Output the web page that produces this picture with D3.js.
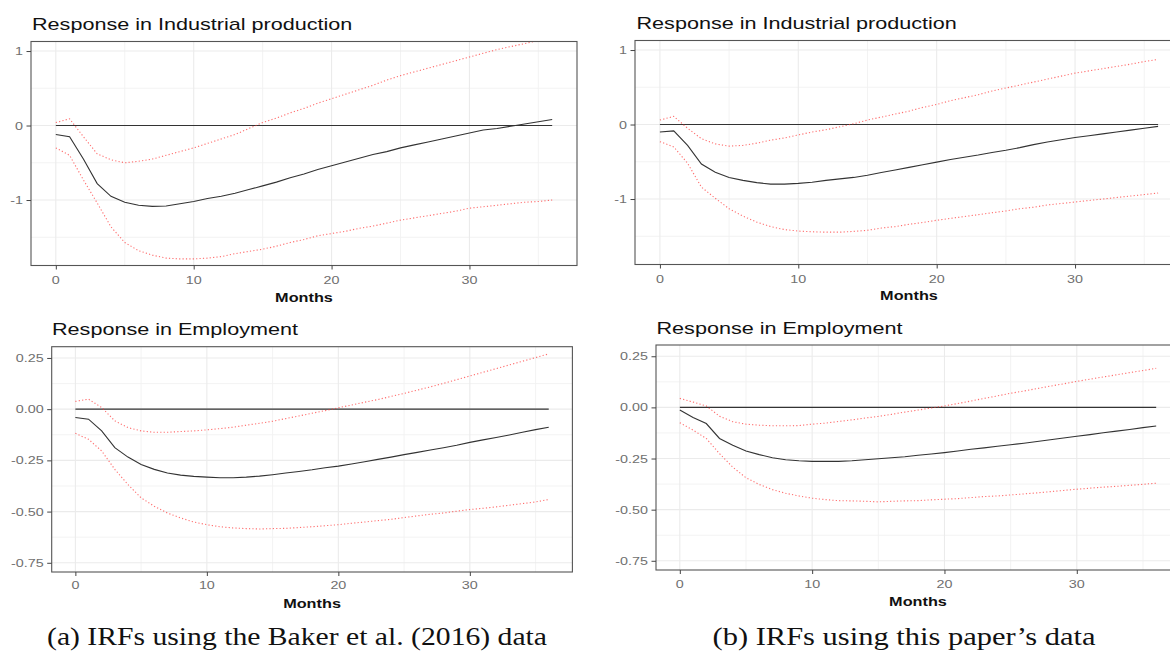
<!DOCTYPE html>
<html>
<head>
<meta charset="utf-8">
<script src="https://cdn.jsdelivr.net/npm/d3@7/dist/d3.min.js"></script>
<style>
  html, body { margin: 0; padding: 0; background: #fff; }
  svg { display: block; }
</style>
</head>
<body>
<svg id="chart" width="1170" height="655"></svg>
<script>
// Horizon in months after the shock
const months = [0,1,2,3,4,5,6,7,8,9,10,11,12,13,14,15,16,17,18,19,20,21,22,23,24,25,26,27,28,29,30,31,32,33,34,35,36];
const monthTicks = [0, 10, 20, 30];
const monthMinor = [5, 15, 25, 35];

// (a) Baker et al. (2016) data — industrial production
const ipBakerIrf = [-0.12,-0.15,-0.45,-0.78,-0.95,-1.03,-1.07,-1.085,-1.08,-1.05,-1.02,-0.98,-0.95,-0.91,-0.86,-0.81,-0.76,-0.70,-0.65,-0.59,-0.54,-0.49,-0.44,-0.39,-0.35,-0.30,-0.26,-0.22,-0.18,-0.14,-0.10,-0.06,-0.04,-0.01,0.02,0.05,0.08];
const ipBakerUpper = [0.04,0.09,-0.15,-0.38,-0.46,-0.50,-0.48,-0.45,-0.40,-0.35,-0.30,-0.24,-0.18,-0.12,-0.04,0.04,0.10,0.17,0.23,0.30,0.36,0.42,0.48,0.54,0.61,0.67,0.72,0.77,0.82,0.87,0.92,0.97,1.02,1.06,1.10,1.14,1.18];
const ipBakerLower = [-0.30,-0.40,-0.73,-1.04,-1.36,-1.57,-1.68,-1.74,-1.78,-1.79,-1.79,-1.78,-1.76,-1.72,-1.69,-1.66,-1.62,-1.57,-1.53,-1.48,-1.45,-1.42,-1.38,-1.35,-1.31,-1.27,-1.24,-1.21,-1.18,-1.15,-1.11,-1.09,-1.07,-1.05,-1.03,-1.02,-1.00];

// (b) this paper's data — industrial production
const ipOwnIrf = [-0.10,-0.085,-0.28,-0.53,-0.64,-0.71,-0.75,-0.78,-0.80,-0.80,-0.79,-0.775,-0.75,-0.73,-0.71,-0.68,-0.645,-0.61,-0.575,-0.54,-0.505,-0.47,-0.44,-0.41,-0.375,-0.345,-0.31,-0.27,-0.235,-0.205,-0.175,-0.15,-0.125,-0.10,-0.075,-0.05,-0.025];
const ipOwnUpper = [0.06,0.11,-0.05,-0.19,-0.26,-0.29,-0.28,-0.25,-0.21,-0.18,-0.14,-0.10,-0.07,-0.03,0.01,0.06,0.10,0.14,0.18,0.23,0.27,0.32,0.36,0.40,0.45,0.49,0.53,0.57,0.61,0.65,0.69,0.72,0.75,0.78,0.81,0.845,0.875];
const ipOwnLower = [-0.23,-0.30,-0.52,-0.84,-0.99,-1.13,-1.23,-1.31,-1.37,-1.41,-1.43,-1.44,-1.445,-1.445,-1.435,-1.42,-1.39,-1.37,-1.34,-1.315,-1.285,-1.26,-1.235,-1.21,-1.185,-1.16,-1.13,-1.11,-1.08,-1.06,-1.04,-1.02,-1.00,-0.98,-0.96,-0.94,-0.92];

// (a) Baker et al. (2016) data — employment
const empBakerIrf = [-0.041,-0.049,-0.106,-0.188,-0.234,-0.27,-0.294,-0.312,-0.322,-0.328,-0.332,-0.335,-0.335,-0.332,-0.327,-0.32,-0.312,-0.304,-0.296,-0.286,-0.278,-0.268,-0.257,-0.245,-0.234,-0.222,-0.211,-0.199,-0.188,-0.176,-0.162,-0.150,-0.138,-0.126,-0.113,-0.100,-0.088];
const empBakerUpper = [0.038,0.049,0.008,-0.057,-0.09,-0.106,-0.113,-0.113,-0.109,-0.106,-0.101,-0.095,-0.088,-0.078,-0.069,-0.059,-0.046,-0.033,-0.02,-0.007,0.007,0.02,0.034,0.047,0.062,0.077,0.093,0.109,0.126,0.144,0.162,0.18,0.198,0.216,0.234,0.252,0.27];
const empBakerLower = [-0.118,-0.147,-0.204,-0.294,-0.368,-0.433,-0.474,-0.507,-0.531,-0.551,-0.564,-0.574,-0.58,-0.583,-0.585,-0.583,-0.582,-0.578,-0.574,-0.569,-0.564,-0.557,-0.551,-0.544,-0.538,-0.529,-0.521,-0.513,-0.507,-0.498,-0.49,-0.484,-0.477,-0.469,-0.461,-0.453,-0.441];

// (b) this paper's data — employment
const empOwnIrf = [-0.013,-0.049,-0.079,-0.152,-0.185,-0.213,-0.231,-0.246,-0.256,-0.261,-0.264,-0.264,-0.264,-0.261,-0.256,-0.251,-0.246,-0.241,-0.234,-0.228,-0.221,-0.213,-0.205,-0.198,-0.19,-0.183,-0.175,-0.167,-0.158,-0.15,-0.141,-0.133,-0.124,-0.116,-0.108,-0.099,-0.091];
const empOwnUpper = [0.044,0.026,0.007,-0.043,-0.07,-0.082,-0.087,-0.09,-0.09,-0.089,-0.082,-0.077,-0.069,-0.061,-0.052,-0.044,-0.034,-0.023,-0.013,-0.003,0.007,0.019,0.031,0.044,0.056,0.069,0.08,0.092,0.104,0.115,0.127,0.138,0.149,0.159,0.17,0.18,0.191];
const empOwnLower = [-0.075,-0.111,-0.152,-0.226,-0.292,-0.344,-0.377,-0.402,-0.42,-0.433,-0.444,-0.451,-0.456,-0.457,-0.459,-0.462,-0.459,-0.457,-0.456,-0.452,-0.449,-0.446,-0.441,-0.436,-0.433,-0.428,-0.423,-0.418,-0.412,-0.406,-0.40,-0.395,-0.39,-0.386,-0.381,-0.376,-0.371];

// Axis ticks
const ipTicks = [-1, 0, 1];
const ipMinor = [-1.5, -0.5, 0.5];
const empTicks = [-0.75, -0.5, -0.25, 0, 0.25];
const empMinor = [-0.625, -0.375, -0.125, 0.125];

const panelTitles = ["Response in Industrial production", "Response in Employment"];
const xAxisTitle = "Months";
const captions = ["(a) IRFs using the Baker et al. (2016) data", "(b) IRFs using this paper\u2019s data"];

// The plot images are set wider than their native aspect, so all plot text is stretched horizontally
const SX = 1.27;
const SANS = "'Liberation Sans', Arial, Helvetica, sans-serif";
const SERIF = "'Liberation Serif', 'Times New Roman', serif";

const asciiMinus = s => s.replace("\u2212", "-");
const fmtInt = v => asciiMinus(d3.format("d")(v));
const fmt2 = v => asciiMinus(d3.format(".2f")(v));

const panels = [
  { title: panelTitles[0], box: {l: 31, r: 577, t: 41.5, b: 265.5}, yDomain: [-1.879, 1.128],
    ticks: ipTicks, minor: ipMinor, fmt: fmtInt, irf: ipBakerIrf, up: ipBakerUpper, lo: ipBakerLower,
    titlePos: [32, 30], xlabY: 301.5, tickLabY: 283.5 },
  { title: panelTitles[0], box: {l: 635, r: 1183, t: 40.5, b: 264.5}, yDomain: [-1.879, 1.128],
    ticks: ipTicks, minor: ipMinor, fmt: fmtInt, irf: ipOwnIrf, up: ipOwnUpper, lo: ipOwnLower,
    titlePos: [636.5, 28.5], xlabY: 300, tickLabY: 282.5 },
  { title: panelTitles[1], box: {l: 51.7, r: 572.4, t: 346.7, b: 572}, yDomain: [-0.795, 0.305],
    ticks: empTicks, minor: empMinor, fmt: fmt2, irf: empBakerIrf, up: empBakerUpper, lo: empBakerLower,
    titlePos: [52, 335], xlabY: 607.5, tickLabY: 589 },
  { title: panelTitles[1], box: {l: 656, r: 1180, t: 345, b: 570}, yDomain: [-0.795, 0.305],
    ticks: empTicks, minor: empMinor, fmt: fmt2, irf: empOwnIrf, up: empOwnUpper, lo: empOwnLower,
    titlePos: [656.5, 333.5], xlabY: 606, tickLabY: 587.5 }
];

const svg = d3.select("#chart");
svg.append("rect").attr("width", 1170).attr("height", 655).attr("fill", "#fff");
const defs = svg.append("defs");

// stretched text anchored at (x, y)
function stretchedText(parent, x, y, str, opts) {
  return parent.append("text")
    .attr("transform", `translate(${x},${y}) scale(${SX},1)`)
    .attr("text-anchor", opts.anchor || "start")
    .attr("font-family", SANS)
    .attr("font-size", opts.size)
    .attr("font-weight", opts.weight || "normal")
    .attr("fill", opts.fill || "#111")
    .attr("dy", opts.dy || 0)
    .text(str);
}

panels.forEach((p, i) => {
  const {l, r, t, b} = p.box;
  const x = d3.scaleLinear().domain([-1.8, 37.8]).range([l, r]);
  const y = d3.scaleLinear().domain(p.yDomain).range([b, t]);
  const g = svg.append("g");

  const clipId = "clip" + i;
  defs.append("clipPath").attr("id", clipId)
    .append("rect").attr("x", l).attr("y", t).attr("width", r - l).attr("height", b - t);

  // minor grid
  g.append("g").selectAll("line").data(p.minor).join("line")
    .attr("x1", l).attr("x2", r).attr("y1", d => y(d)).attr("y2", d => y(d))
    .attr("stroke", "#f2f2f2").attr("stroke-width", 0.9);
  g.append("g").selectAll("line").data(monthMinor).join("line")
    .attr("y1", t).attr("y2", b).attr("x1", d => x(d)).attr("x2", d => x(d))
    .attr("stroke", "#f2f2f2").attr("stroke-width", 0.9);
  // major grid
  g.append("g").selectAll("line").data(p.ticks).join("line")
    .attr("x1", l).attr("x2", r).attr("y1", d => y(d)).attr("y2", d => y(d))
    .attr("stroke", "#ebebeb").attr("stroke-width", 1.1);
  g.append("g").selectAll("line").data(monthTicks).join("line")
    .attr("y1", t).attr("y2", b).attr("x1", d => x(d)).attr("x2", d => x(d))
    .attr("stroke", "#ebebeb").attr("stroke-width", 1.1);

  const plot = g.append("g").attr("clip-path", `url(#${clipId})`);
  const line = d3.line().x((d, k) => x(months[k])).y(d => y(d));

  // zero reference line over the horizon
  plot.append("line")
    .attr("x1", x(months[0])).attr("x2", x(months[months.length - 1]))
    .attr("y1", y(0)).attr("y2", y(0))
    .attr("stroke", "#333").attr("stroke-width", 1.1);

  // confidence bands
  [p.up, p.lo].forEach(band => {
    plot.append("path").datum(band).attr("d", line)
      .attr("fill", "none").attr("stroke", "#ff3030").attr("stroke-opacity", 0.7)
      .attr("stroke-width", 1.1).attr("stroke-dasharray", "1.2,2.2");
  });

  // impulse response
  plot.append("path").datum(p.irf).attr("d", line)
    .attr("fill", "none").attr("stroke", "#333").attr("stroke-width", 1.1);

  // panel border
  g.append("rect").attr("x", l).attr("y", t).attr("width", r - l).attr("height", b - t)
    .attr("fill", "none").attr("stroke", "#555").attr("stroke-width", 1.1);

  // x axis: tick marks from the axis generator, labels stretched
  const gx = g.append("g").attr("transform", `translate(0,${b})`)
    .call(d3.axisBottom(x).tickValues(monthTicks).tickSize(4).tickFormat(""));
  gx.select(".domain").remove();
  gx.selectAll("line").attr("stroke", "#444");
  monthTicks.forEach(v => {
    stretchedText(g, x(v), p.tickLabY, fmtInt(v), {anchor: "middle", size: 11.3, fill: "#707070"});
  });

  // y axis
  const gy = g.append("g").attr("transform", `translate(${l},0)`)
    .call(d3.axisLeft(y).tickValues(p.ticks).tickSize(4.5).tickFormat(""));
  gy.select(".domain").remove();
  gy.selectAll("line").attr("stroke", "#444");
  p.ticks.forEach(v => {
    stretchedText(g, l - 8, y(v), p.fmt(v), {anchor: "end", size: 11.3, fill: "#707070", dy: "0.36em"});
  });

  // titles
  stretchedText(g, p.titlePos[0], p.titlePos[1], p.title, {size: 17});
  stretchedText(g, (l + r) / 2, p.xlabY, xAxisTitle, {anchor: "middle", size: 12.8, weight: "bold"});
});

// sub-figure captions
[[297, 500, captions[0]], [904, 383, captions[1]]].forEach(([cx, w, txt]) => {
  svg.append("text").attr("x", cx - w / 2).attr("y", 645)
    .attr("textLength", w).attr("lengthAdjust", "spacingAndGlyphs")
    .attr("font-family", SERIF).attr("font-size", 25.5).attr("fill", "#111").text(txt);
});
</script>
</body>
</html>
